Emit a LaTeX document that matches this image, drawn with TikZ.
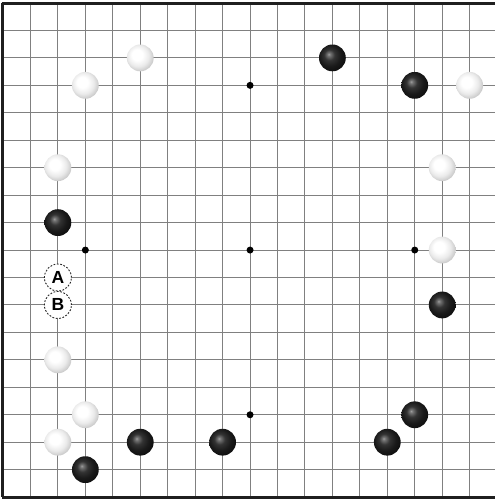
\documentclass[tikz,border=0pt]{standalone}
\usepackage{fontspec}
\setmainfont{Liberation Sans}
\pgfdeclareradialshading{wstoneshade}{\pgfpoint{-7bp}{7bp}}{color(0bp)=(white); color(10bp)=(white); color(20bp)=(black!8); color(30bp)=(black!24); color(50bp)=(black!35)}
\pgfdeclareradialshading{bstoneshade}{\pgfpoint{-7bp}{7bp}}{color(0bp)=(black!38); color(3bp)=(black!55); color(10bp)=(black!80); color(20bp)=(black!90); color(32bp)=(black!96); color(50bp)=(black)}
\begin{document}
\begin{tikzpicture}[x=27.45pt,y=27.45pt,
  gridline/.style={draw=black!50, line width=1pt},
  edgeline/.style={draw=black!88, line width=3pt},
  stone/.style={circle, inner sep=0pt, minimum size=26.8pt, shade},
  wstone/.style={stone, shading=wstoneshade},
  bstone/.style={stone, shading=bstoneshade},
  hoshi/.style={circle, fill=black, inner sep=0pt, minimum size=7pt},
  labelmark/.style={circle, fill=white, draw=black!85, line width=0.9pt,
    dash pattern=on 1.8pt off 1.6pt, inner sep=0pt, minimum size=27pt,
    font=\fontsize{17.5}{17.5}\selectfont\bfseries}
]
\useasboundingbox (0.89071,-0.89071) rectangle (18.9599,-19.0692);
\fill[white] (0.5,-0.5) rectangle (19.5,-19.5);
% grid
\foreach \c in {2,...,18} \draw[gridline] (\c,-1) -- (\c,-19);
\foreach \r in {2,...,18} \draw[gridline] (1,-\r) -- (18.93,-\r);
\draw[edgeline] (0.9454,-1) -- (18.93,-1);
\draw[edgeline] (0.9454,-19) -- (18.93,-19);
\draw[edgeline] (1,-1) -- (1,-19);
% star points
\foreach \c in {4,10,16} \foreach \r in {4,10,16}
  \node[hoshi] (h\c-\r) at (\c,-\r) {};
% white stones
\foreach \c/\r [count=\i] in {6/3,4/4,18/4,3/7,17/7,17/10,3/14,4/16,3/17}
  \node[wstone] (w\i) at (\c,-\r) {};
% black stones
\foreach \c/\r [count=\i] in {13/3,16/4,3/9,17/12,16/16,6/17,9/17,15/17,4/18}
  \node[bstone] (b\i) at (\c,-\r) {};
% marked points
\node[labelmark] (A) at (3,-11) {A};
\node[labelmark] (B) at (3,-12) {B};
\end{tikzpicture}
\end{document}
